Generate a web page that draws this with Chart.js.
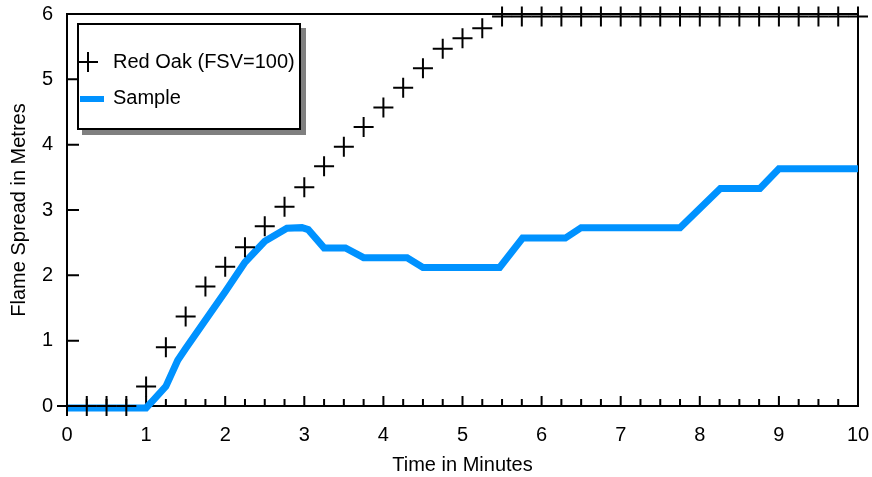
<!DOCTYPE html>
<html>
<head>
<meta charset="utf-8">
<script src="https://cdn.jsdelivr.net/npm/chart.js@4"></script>
<style>
    html, body { margin: 0; padding: 0; background: #fff; }
    #wrap { width: 872px; height: 477px; }
</style>
</head>
<body>
<div id="wrap"><canvas id="spreadChart"></canvas></div>
<script>
// Red Oak reference, one reading every quarter minute
const redOakTimes = [0, 0.25, 0.5, 0.75, 1, 1.25, 1.5, 1.75, 2, 2.25, 2.5, 2.75, 3, 3.25, 3.5, 3.75, 4, 4.25, 4.5, 4.75,
    5, 5.25, 5.5, 5.75, 6, 6.25, 6.5, 6.75, 7, 7.25, 7.5, 7.75, 8, 8.25, 8.5, 8.75, 9, 9.25, 9.5, 9.75, 10];
const redOakSpread = [0, 0, 0, 0, 0.3, 0.9, 1.37, 1.83, 2.13, 2.43, 2.75, 3.05, 3.35, 3.67, 3.97, 4.27, 4.57, 4.87, 5.17, 5.47,
    5.63, 5.78, 5.96, 5.96, 5.96, 5.96, 5.96, 5.96, 5.96, 5.96, 5.96, 5.96, 5.96, 5.96, 5.96, 5.96, 5.96, 5.96, 5.96, 5.96, 5.96];

// Sample curve (break points)
const sampleTimes = [0, 1.0, 1.1, 1.25, 1.4, 1.5, 2.0, 2.25, 2.5, 2.78, 2.97, 3.05, 3.25, 3.52, 3.75, 4.3, 4.5, 5.47,
    5.76, 6.3, 6.5, 7.75, 8.26, 8.76, 9.0, 10];
const sampleSpread = [-0.03, -0.03, 0.1, 0.3, 0.7, 0.88, 1.75, 2.2, 2.52, 2.72, 2.73, 2.7, 2.42, 2.42, 2.27, 2.27, 2.12, 2.12,
    2.57, 2.57, 2.73, 2.73, 3.33, 3.33, 3.63, 3.63];

const xTickLabels = ['0', '1', '2', '3', '4', '5', '6', '7', '8', '9', '10'];
const yTickLabels = ['0', '1', '2', '3', '4', '5', '6'];

const FONT = 'Liberation Sans, Arial, Helvetica, sans-serif';
const BLUE = '#0092ff';

//box round the plot plus the inward tick marks
const framePlugin = {
    id: 'frame',
    beforeDatasetsDraw(chart) {
        const {ctx, chartArea: a, scales: {x, y}} = chart;
        ctx.save();
        ctx.strokeStyle = '#000';
        ctx.lineWidth = 2;
        ctx.strokeRect(a.left, a.top, a.right - a.left, a.bottom - a.top);
        ctx.beginPath();
        for (let i = 0; i <= 40; i++) {
            const px = x.getPixelForValue(i / 4);
            const len = i % 4 === 0 ? 10 : 7;
            ctx.moveTo(px, a.bottom);
            ctx.lineTo(px, a.bottom - len);
        }
        for (let v = 0; v <= 6; v++) {
            const py = y.getPixelForValue(v);
            ctx.moveTo(a.left, py);
            ctx.lineTo(a.left + 12, py);
        }
        ctx.stroke();
        ctx.restore();
    }
};

//legend box with drop shadow inside the plot
const legendPlugin = {
    id: 'boxLegend',
    afterDraw(chart) {
        const {ctx} = chart;
        const l = 78, t = 24, w = 222, h = 105;
        ctx.save();
        ctx.fillStyle = '#808080';
        ctx.fillRect(l + 4, t + 4, w + 2, h + 2);
        ctx.fillStyle = '#fff';
        ctx.fillRect(l, t, w, h);
        ctx.strokeStyle = '#000';
        ctx.lineWidth = 2;
        ctx.strokeRect(l, t, w, h);

        const ds = chart.data.datasets;
        // cross for Red Oak
        ctx.lineWidth = 2;
        ctx.beginPath();
        ctx.moveTo(78, 62); ctx.lineTo(98, 62);
        ctx.moveTo(88, 52); ctx.lineTo(88, 72);
        ctx.stroke();
        // bar for Sample
        ctx.fillStyle = BLUE;
        ctx.fillRect(80, 96, 24, 6);

        ctx.fillStyle = '#000';
        ctx.font = '20px ' + FONT;
        ctx.textBaseline = 'middle';
        ctx.fillText(ds[0].label, 113, 62);
        ctx.fillText(ds[1].label, 113, 98);
        ctx.restore();
    }
};

new Chart(document.getElementById('spreadChart'), {
    type: 'line',
    data: {
        datasets: [{
            label: 'Red Oak (FSV=100)',
            data: redOakTimes.map((t, i) => ({x: t, y: redOakSpread[i]})),
            showLine: false,
            pointStyle: 'cross',
            pointRadius: 10,
            pointBorderWidth: 2,
            borderColor: '#000',
            backgroundColor: '#000',
            clip: false,
            order: 0
        }, {
            label: 'Sample',
            data: sampleTimes.map((t, i) => ({x: t, y: sampleSpread[i]})),
            borderColor: BLUE,
            borderWidth: 7,
            pointRadius: 0,
            tension: 0,
            clip: false,
            order: 1
        }]
    },
    options: {
        responsive: true,
        maintainAspectRatio: false,
        animation: false,
        layout: {
            padding: {top: 14, right: 14, left: 0, bottom: 0}
        },
        plugins: {
            legend: {display: false},
            tooltip: {enabled: false}
        },
        scales: {
            x: {
                type: 'linear',
                min: 0,
                max: 10,
                afterFit: s => {
                    s.height = 71;
                    s.paddingLeft = 0;
                    s.paddingRight = 0;
                },
                afterBuildTicks: s => { s.ticks = xTickLabels.map(v => ({value: Number(v)})); },
                grid: {display: false, drawTicks: false},
                border: {display: false},
                ticks: {color: '#000', font: {size: 20, family: FONT}, padding: 17, maxRotation: 0,
                    callback: (v, i) => xTickLabels[i]},
                title: {display: true, text: 'Time in Minutes', color: '#000',
                    font: {size: 20, family: FONT}, padding: {top: 0, bottom: 0}}
            },
            y: {
                min: 0,
                max: 6,
                afterFit: s => {
                    s.width = 67;
                    s.paddingTop = 0;
                    s.paddingBottom = 0;
                },
                afterBuildTicks: s => { s.ticks = yTickLabels.map(v => ({value: Number(v)})); },
                grid: {display: false, drawTicks: false},
                border: {display: false},
                ticks: {color: '#000', font: {size: 20, family: FONT}, padding: 14,
                    callback: (v, i) => yTickLabels[i]},
                title: {display: true, text: 'Flame Spread in Metres', color: '#000',
                    font: {size: 20, family: FONT}, padding: {top: 7, bottom: 0}}
            }
        }
    },
    plugins: [framePlugin, legendPlugin]
});
</script>
</body>
</html>
